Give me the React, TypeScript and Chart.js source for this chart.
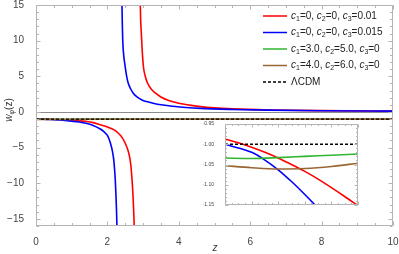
import React, { useEffect, useRef } from 'react';
import { Chart, registerables } from 'chart.js';

Chart.register(...registerables);

// ---------------- data ----------------
const xTickValues = [0, 2, 4, 6, 8, 10];
const yTickValues = [-15, -10, -5, 0, 5, 10, 15];

const redLowZ = [0, 0.2, 0.4, 0.6, 0.8, 1.0, 1.2, 1.4, 1.6, 1.8, 2.0, 2.2, 2.3, 2.4, 2.5, 2.6, 2.65, 2.69, 2.72, 2.745, 2.77];
const redLowW = [-0.987, -1.008, -1.034, -1.067, -1.107, -1.152, -1.22, -1.33, -1.5, -1.8, -2.1, -2.55, -2.95, -3.5, -4.4, -5.8, -7.2, -9.5, -12, -15, -19];
const redUpZ = [2.905, 2.915, 2.93, 2.95, 2.975, 3.01, 3.06, 3.12, 3.22, 3.34, 3.5, 3.7, 4.0, 4.3, 4.6, 5.0, 5.5, 6.5, 8, 10];
const redUpW = [20, 16.5, 13.2, 11, 8.6, 6.3, 5.0, 4.1, 3.25, 2.66, 2.1, 1.65, 1.22, 0.95, 0.75, 0.57, 0.43, 0.28, 0.18, 0.12];

const blueLowZ = [0, 0.2, 0.4, 0.6, 0.8, 1.0, 1.2, 1.4, 1.6, 1.8, 1.9, 2.0, 2.08, 2.14, 2.18, 2.2, 2.22, 2.24, 2.255, 2.27, 2.29];
const blueLowW = [-1.0, -1.02, -1.063, -1.124, -1.195, -1.3, -1.42, -1.6, -1.9, -2.4, -2.76, -3.3, -4.3, -5.5, -6.8, -8.0, -9.5, -11.7, -13.8, -16.5, -21];
const blueUpZ = [2.394, 2.405, 2.415, 2.425, 2.44, 2.46, 2.5, 2.54, 2.58, 2.65, 2.72, 2.82, 2.97, 3.1, 3.28, 3.5, 3.84, 4.2, 4.6, 5.5, 6.5, 8, 10];
const blueUpW = [20, 16, 13, 10.8, 9.0, 7.8, 6.3, 5.0, 4.1, 3.25, 2.66, 2.15, 1.68, 1.45, 1.22, 1.0, 0.8, 0.63, 0.5, 0.35, 0.25, 0.17, 0.12];

const greenZ = [0, 0.2, 0.4, 0.6, 0.8, 1.0, 2, 4, 6, 10];
const greenW = [-1.034, -1.035, -1.033, -1.03, -1.027, -1.024, -1.015, -1.006, -1.003, -1.001];
const brownZ = [0, 0.2, 0.4, 0.6, 0.8, 1.0, 2, 4, 6, 10];
const brownW = [-1.053, -1.058, -1.061, -1.06, -1.055, -1.047, -1.03, -1.012, -1.005, -1.002];
const lcdmZ = [0, 10];
const lcdmW = [-1, -1];

// inset
const insetXTicks = [0, 0.2, 0.4, 0.6, 0.8, 1.0];
const insetYTicks = [-1.15, -1.1, -1.05, -1.0, -0.95];
const insetRedZ = [0, 0.1, 0.2, 0.3, 0.4, 0.5, 0.6, 0.7, 0.8, 0.9, 1.0];
const insetRedW = [-0.987, -0.9965, -1.0075, -1.02, -1.034, -1.05, -1.067, -1.086, -1.107, -1.129, -1.152];
const insetBlueZ = [0, 0.1, 0.2, 0.3, 0.4, 0.5, 0.6, 0.7, 0.8];
const insetBlueW = [-1.0, -1.009, -1.02, -1.039, -1.063, -1.092, -1.124, -1.158, -1.195];
const insetGreenZ = [0, 0.2, 0.4, 0.6, 0.8, 1.0];
const insetGreenW = [-1.034, -1.035, -1.033, -1.03, -1.027, -1.024];
const insetBrownZ = [0, 0.2, 0.4, 0.6, 0.8, 1.0];
const insetBrownW = [-1.053, -1.058, -1.061, -1.06, -1.055, -1.047];
const insetLcdmZ = [0, 1];
const insetLcdmW = [-1, -1];

const legendLabels = ['c_1=0, c_2=0, c_3=0.01', 'c_1=0, c_2=0, c_3=0.015', 'c_1=3.0, c_2=5.0, c_3=0', 'c_1=4.0, c_2=6.0, c_3=0', 'ΛCDM'];

// ---------------- styles ----------------
const FONT = "'Liberation Sans', Arial, sans-serif";
const RED = '#ff0000';
const BLUE = '#0000ff';
const GREEN = '#2fb52f';
const BROWN = '#996633';
const FRAME = '#b4b4b4';
const LABEL = '#444444';
const legendColors = [RED, BLUE, GREEN, BROWN, '#000000'];

const pts = (zs: number[], ws: number[]) => zs.map((z, i) => ({ x: z, y: ws[i] }));
const fmtMinus = (v: number, d: number) => (v < 0 ? '\u2212' : '') + Math.abs(v).toFixed(d);

function lineDs(data: any, color: string, width = 1.6, dash: number[] = []) {
  return {
    data,
    borderColor: color,
    backgroundColor: color,
    borderWidth: width,
    borderDash: dash,
    pointRadius: 0,
    fill: false,
    cubicInterpolationMode: 'monotone' as const,
  };
}

function frameTicksPlugin(id: string, xMinor: number[], xMajor: number[], yMinor: number[], yMajor: number[], majLen: number, minLen: number, zeroLine: boolean) {
  return {
    id,
    beforeDatasetsDraw(chart: any) {
      if (!zeroLine) return;
      const { ctx, chartArea: a, scales } = chart;
      const y0 = Math.round(scales.y.getPixelForValue(0)) + 0.5;
      ctx.save();
      ctx.strokeStyle = '#8c8c8c';
      ctx.lineWidth = 1;
      ctx.beginPath();
      ctx.moveTo(a.left, y0);
      ctx.lineTo(a.right, y0);
      ctx.stroke();
      ctx.restore();
    },
    afterDatasetsDraw(chart: any) {
      const { ctx, chartArea: a, scales } = chart;
      const xs = scales.x, ys = scales.y;
      ctx.save();
      ctx.strokeStyle = FRAME;
      ctx.lineWidth = 1;
      const L = Math.round(a.left) + 0.5, R = Math.round(a.right) - 0.5;
      const T = Math.round(a.top) + 0.5, B = Math.round(a.bottom) - 0.5;
      ctx.beginPath();
      ctx.rect(L, T, R - L, B - T);
      ctx.stroke();
      ctx.beginPath();
      const tickX = (v: number, len: number) => {
        const px = Math.round(xs.getPixelForValue(v)) + 0.5;
        ctx.moveTo(px, B); ctx.lineTo(px, B - len);
        ctx.moveTo(px, T); ctx.lineTo(px, T + len);
      };
      const tickY = (v: number, len: number) => {
        const py = Math.round(ys.getPixelForValue(v)) + 0.5;
        ctx.moveTo(L, py); ctx.lineTo(L + len, py);
        ctx.moveTo(R, py); ctx.lineTo(R - len, py);
      };
      xMinor.forEach(v => tickX(v, minLen));
      xMajor.forEach(v => tickX(v, majLen));
      yMinor.forEach(v => tickY(v, minLen));
      yMajor.forEach(v => tickY(v, majLen));
      ctx.stroke();
      ctx.restore();
    },
  };
}

function drawRich(ctx: CanvasRenderingContext2D, str: string, x: number, y: number, size: number) {
  const parts = str.split(/(c_\d)/).filter(Boolean);
  let cx = x;
  for (const p of parts) {
    const m = /^c_(\d)$/.exec(p);
    if (m) {
      ctx.font = `italic ${size}px ${FONT}`;
      ctx.fillText('c', cx, y);
      cx += ctx.measureText('c').width;
      ctx.font = `${Math.round(size * 0.7)}px ${FONT}`;
      ctx.fillText(m[1], cx, y + size * 0.3);
      cx += ctx.measureText(m[1]).width;
    } else {
      ctx.font = `${size}px ${FONT}`;
      ctx.fillText(p, cx, y);
      cx += ctx.measureText(p).width;
    }
  }
}

const legendPlugin = {
  id: 'customLegend',
  afterDraw(chart: any) {
    const { ctx } = chart;
    ctx.save();
    ctx.textBaseline = 'middle';
    ctx.fillStyle = '#222';
    const x0 = 263, x1 = 287, tx = 291, y0 = 16, dy = 16.5;
    legendLabels.forEach((lab, i) => {
      const y = y0 + i * dy;
      ctx.strokeStyle = legendColors[i];
      ctx.lineWidth = i === 4 ? 1.3 : 1.5;
      ctx.setLineDash(i === 4 ? [3, 2] : []);
      ctx.beginPath();
      ctx.moveTo(x0, y);
      ctx.lineTo(x1, y);
      ctx.stroke();
      ctx.setLineDash([]);
      ctx.fillStyle = '#222';
      drawRich(ctx, lab, tx, y, 10);
    });
    // axis titles
    ctx.fillStyle = '#333';
    ctx.font = `italic 10px ${FONT}`;
    ctx.textAlign = 'center';
    ctx.fillText('z', 215, 248);
    ctx.textAlign = 'left';
    ctx.save();
    ctx.translate(9, 110);
    ctx.rotate(-Math.PI / 2);
    ctx.font = `italic 10px ${FONT}`;
    const wW = ctx.measureText('w').width;
    ctx.font = `7px ${FONT}`;
    const pW = ctx.measureText('\u03c6').width;
    ctx.font = `10px ${FONT}`;
    const zW = ctx.measureText('(z)').width;
    let cx = -(wW + pW + zW) / 2;
    ctx.font = `italic 10px ${FONT}`;
    ctx.fillText('w', cx, 0); cx += wW;
    ctx.font = `7px ${FONT}`;
    ctx.fillText('\u03c6', cx, 3); cx += pW;
    ctx.font = `10px ${FONT}`;
    ctx.fillText('(z)', cx, 0);
    ctx.restore();
    ctx.restore();
  },
};

const range = (a: number, b: number, s: number) => {
  const r: number[] = [];
  for (let v = a; v <= b + 1e-9; v += s) r.push(+v.toFixed(4));
  return r;
};

export default function App() {
  const mainRef = useRef<HTMLCanvasElement>(null);
  const insetRef = useRef<HTMLCanvasElement>(null);

  useEffect(() => {
    const main = new Chart(mainRef.current!, {
      type: 'line',
      data: {
        datasets: [
          lineDs(pts(lcdmZ, lcdmW), '#000000', 1.3, [3, 2]),
          lineDs(pts(brownZ, brownW), BROWN),
          lineDs(pts(greenZ, greenW), GREEN),
          lineDs(pts(blueLowZ, blueLowW), BLUE),
          lineDs(pts(blueUpZ, blueUpW), BLUE),
          lineDs(pts(redLowZ, redLowW), RED),
          lineDs(pts(redUpZ, redUpW), RED),
        ] as any,
      },
      options: {
        animation: false,
        responsive: false,
        devicePixelRatio: 1,
        events: [],
        layout: { padding: { top: 5, right: 6, left: 0, bottom: 0 } },
        plugins: { legend: { display: false }, tooltip: { enabled: false } },
        scales: {
          x: {
            type: 'linear',
            min: 0,
            max: 10,
            grid: { display: false },
            border: { display: false },
            afterBuildTicks: (s: any) => { s.ticks = xTickValues.map(v => ({ value: v })); },
            afterFit: (s: any) => { s.height = 28; s.paddingLeft = 0; s.paddingRight = 0; },
            ticks: { color: LABEL, font: { family: FONT, size: 10 }, padding: 2, maxRotation: 0, callback: (v: any) => fmtMinus(+v, 0) },
          },
          y: {
            type: 'linear',
            min: -16,
            max: 15,
            grid: { display: false },
            border: { display: false },
            afterBuildTicks: (s: any) => { s.ticks = yTickValues.map(v => ({ value: v })); },
            afterFit: (s: any) => { s.width = 36; s.paddingTop = 0; s.paddingBottom = 0; },
            ticks: { color: LABEL, font: { family: FONT, size: 10 }, padding: 4, callback: (v: any) => fmtMinus(+v, 0) },
          },
        },
      } as any,
      plugins: [
        frameTicksPlugin('mainFrame', range(0, 10, 0.5), xTickValues, range(-16, 15, 1), yTickValues, 4, 2.5, true),
        legendPlugin,
      ],
    });

    const inset = new Chart(insetRef.current!, {
      type: 'line',
      data: {
        datasets: [
          lineDs(pts(insetLcdmZ, insetLcdmW), '#000000', 1.3, [3, 2]),
          lineDs(pts(insetBrownZ, insetBrownW), BROWN),
          lineDs(pts(insetGreenZ, insetGreenW), GREEN),
          lineDs(pts(insetBlueZ, insetBlueW), BLUE),
          lineDs(pts(insetRedZ, insetRedW), RED),
        ] as any,
      },
      options: {
        animation: false,
        responsive: false,
        devicePixelRatio: 1,
        events: [],
        layout: { padding: { top: 3, right: 5, left: 0, bottom: 0 } },
        plugins: { legend: { display: false }, tooltip: { enabled: false } },
        scales: {
          x: {
            type: 'linear',
            min: 0,
            max: 1,
            grid: { display: false },
            border: { display: false },
            afterBuildTicks: (s: any) => { s.ticks = insetXTicks.map(v => ({ value: v })); },
            afterFit: (s: any) => { s.height = 10; s.paddingLeft = 0; s.paddingRight = 0; },
            ticks: { color: LABEL, font: { family: FONT, size: 5 }, padding: 2, maxRotation: 0, callback: (v: any) => fmtMinus(+v, 1) },
          },
          y: {
            type: 'linear',
            min: -1.15,
            max: -0.95,
            grid: { display: false },
            border: { display: false },
            afterBuildTicks: (s: any) => { s.ticks = insetYTicks.map(v => ({ value: v })); },
            afterFit: (s: any) => { s.width = 22; s.paddingTop = 0; s.paddingBottom = 0; },
            ticks: { color: LABEL, font: { family: FONT, size: 5 }, padding: 3, callback: (v: any) => fmtMinus(+v, 2) },
          },
        },
      } as any,
      plugins: [
        frameTicksPlugin('insetFrame', range(0, 1, 0.05), insetXTicks, range(-1.15, -0.95, 0.01), insetYTicks, 3, 1.5, false),
      ],
    });

    return () => {
      main.destroy();
      inset.destroy();
    };
  }, []);

  return (
    <div style={{ position: 'absolute', left: 0, top: 0, width: 399, height: 254, background: '#fff' }}>
      <canvas ref={mainRef} width={399} height={254} style={{ position: 'absolute', left: 0, top: 0, width: 399, height: 254 }} />
      <canvas ref={insetRef} width={160} height={94} style={{ position: 'absolute', left: 203, top: 121, width: 160, height: 94 }} />
    </div>
  );
}
